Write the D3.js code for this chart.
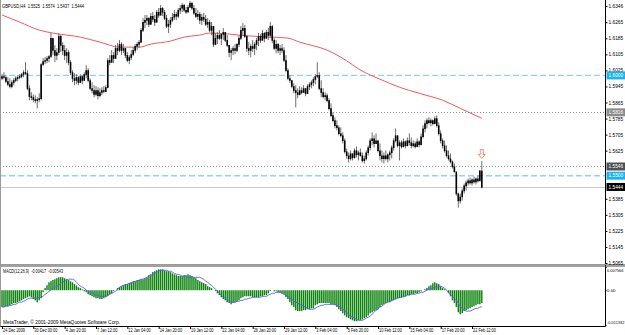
<!DOCTYPE html>
<html>
<head>
<meta charset="utf-8">
<script src="https://cdn.jsdelivr.net/npm/d3@7"></script>
<style>
  body { margin: 0; background: #fff; }
  svg { display: block; }
  text { font-family: "Liberation Sans", Arial, sans-serif; }
</style>
</head>
<body>
<svg id="chart" width="625" height="335"></svg>
<script>
// ========= Data (GBPUSD H4, one value per bar) =========
const opens = [
  1.5986,1.5996,1.5991,1.5971,1.5956,1.5946,1.5966,1.5976,1.5986,1.5991,
  1.5996,1.6006,1.6016,1.6011,1.5936,1.5896,1.5891,1.5881,1.5876,1.5881,
  1.5886,1.6056,1.6071,1.6076,1.6086,1.6096,1.6186,1.6126,1.6101,1.6116,
  1.6196,1.6151,1.6126,1.6101,1.6116,1.6066,1.6016,1.5986,1.5976,1.5991,
  1.5966,1.5996,1.5976,1.6006,1.6026,1.5976,1.5936,1.5926,1.5906,1.5926,
  1.5901,1.5916,1.5926,1.5921,1.5941,1.6076,1.6066,1.6101,1.6086,1.6136,
  1.6126,1.6156,1.6126,1.6136,1.6101,1.6076,1.6091,1.6106,1.6126,1.6146,
  1.6156,1.6166,1.6226,1.6266,1.6276,1.6286,1.6256,1.6296,1.6281,1.6266,
  1.6316,1.6301,1.6336,1.6316,1.6286,1.6246,1.6256,1.6276,1.6291,1.6306,
  1.6296,1.6326,1.6336,1.6351,1.6326,1.6316,1.6341,1.6361,1.6336,1.6311,
  1.6296,1.6306,1.6276,1.6291,1.6281,1.6256,1.6266,1.6226,1.6246,1.6156,
  1.6186,1.6201,1.6186,1.6206,1.6216,1.6176,1.6151,1.6116,1.6126,1.6136,
  1.6126,1.6156,1.6186,1.6226,1.6236,1.6196,1.6136,1.6126,1.6146,1.6136,
  1.6156,1.6176,1.6196,1.6176,1.6211,1.6186,1.6216,1.6201,1.6246,1.6176,
  1.6136,1.6156,1.6126,1.6136,1.6126,1.6076,1.6026,1.5986,1.5976,1.5946,
  1.5926,1.5916,1.5906,1.5926,1.5916,1.5936,1.5911,1.5946,1.5956,1.5966,
  1.5981,1.5996,1.6001,1.5936,1.5916,1.5896,1.5901,1.5876,1.5836,1.5801,
  1.5776,1.5751,1.5741,1.5711,1.5701,1.5676,1.5621,1.5601,1.5586,1.5611,
  1.5591,1.5626,1.5606,1.5616,1.5601,1.5576,1.5586,1.5616,1.5641,1.5676,
  1.5686,1.5661,1.5676,1.5626,1.5601,1.5586,1.5601,1.5586,1.5606,1.5616,
  1.5641,1.5676,1.5701,1.5651,1.5666,1.5646,1.5671,1.5651,1.5676,1.5666,
  1.5651,1.5661,1.5646,1.5671,1.5656,1.5696,1.5736,1.5761,1.5776,1.5766,
  1.5776,1.5761,1.5786,1.5751,1.5711,1.5676,1.5651,1.5626,1.5601,1.5586,
  1.5571,1.5546,1.5521,1.5411,1.5376,1.5396,1.5426,1.5451,1.5466,1.5476,
  1.5466,1.5481,1.5471,1.5486,1.5476,1.5525
];
const highs = [
  1.6006,1.6016,1.6001,1.5991,1.5986,1.5976,1.5986,1.5996,1.6001,1.6006,
  1.6011,1.6026,1.6066,1.6026,1.5951,1.5916,1.5906,1.5901,1.5891,1.5911,
  1.6061,1.6086,1.6091,1.6096,1.6101,1.6211,1.6176,1.6151,1.6136,1.6211,
  1.6201,1.6166,1.6151,1.6136,1.6126,1.6076,1.6026,1.6011,1.6006,1.5996,
  1.6006,1.6001,1.6016,1.6051,1.6036,1.5986,1.5966,1.5951,1.5946,1.5941,
  1.5936,1.5941,1.5946,1.5951,1.6086,1.6101,1.6126,1.6116,1.6151,1.6161,
  1.6176,1.6166,1.6156,1.6136,1.6116,1.6101,1.6126,1.6141,1.6156,1.6166,
  1.6176,1.6236,1.6286,1.6301,1.6301,1.6291,1.6311,1.6316,1.6301,1.6326,
  1.6336,1.6351,1.6341,1.6326,1.6301,1.6276,1.6291,1.6311,1.6326,1.6316,
  1.6336,1.6351,1.6361,1.6356,1.6341,1.6351,1.6371,1.6366,1.6351,1.6336,
  1.6326,1.6316,1.6306,1.6311,1.6301,1.6286,1.6276,1.6266,1.6236,1.6211,
  1.6216,1.6226,1.6211,1.6236,1.6216,1.6201,1.6151,1.6136,1.6146,1.6156,
  1.6161,1.6201,1.6246,1.6261,1.6251,1.6201,1.6166,1.6156,1.6176,1.6166,
  1.6186,1.6211,1.6206,1.6226,1.6216,1.6226,1.6236,1.6266,1.6251,1.6186,
  1.6176,1.6161,1.6151,1.6156,1.6141,1.6101,1.6036,1.6001,1.5976,1.5961,
  1.5951,1.5936,1.5946,1.5941,1.5951,1.5936,1.5956,1.5966,1.5976,1.5991,
  1.6006,1.6066,1.6016,1.5976,1.5936,1.5916,1.5911,1.5886,1.5861,1.5816,
  1.5791,1.5776,1.5751,1.5741,1.5716,1.5686,1.5636,1.5616,1.5626,1.5611,
  1.5636,1.5646,1.5626,1.5636,1.5616,1.5601,1.5626,1.5651,1.5686,1.5716,
  1.5701,1.5711,1.5676,1.5661,1.5626,1.5616,1.5626,1.5611,1.5626,1.5651,
  1.5686,1.5736,1.5701,1.5676,1.5676,1.5686,1.5676,1.5691,1.5711,1.5691,
  1.5676,1.5671,1.5686,1.5676,1.5711,1.5751,1.5776,1.5786,1.5791,1.5786,
  1.5781,1.5796,1.5801,1.5766,1.5726,1.5686,1.5676,1.5651,1.5626,1.5611,
  1.5576,1.5561,1.5516,1.5416,1.5411,1.5436,1.5461,1.5476,1.5486,1.5491,
  1.5486,1.5496,1.5491,1.5501,1.5526,1.5574
];
const lows = [
  1.5976,1.5981,1.5961,1.5946,1.5936,1.5936,1.5951,1.5966,1.5971,1.5981,
  1.5986,1.5991,1.6001,1.5926,1.5876,1.5876,1.5866,1.5861,1.5836,1.5866,
  1.5876,1.6046,1.6056,1.6061,1.6066,1.6086,1.6101,1.6066,1.6076,1.6101,
  1.6116,1.6101,1.6076,1.6061,1.6051,1.6001,1.5966,1.5951,1.5956,1.5951,
  1.5966,1.5956,1.5976,1.5986,1.5966,1.5926,1.5911,1.5891,1.5896,1.5881,
  1.5891,1.5901,1.5911,1.5916,1.5936,1.6051,1.6066,1.6061,1.6086,1.6101,
  1.6116,1.6101,1.6111,1.6086,1.6066,1.6056,1.6076,1.6096,1.6111,1.6126,
  1.6136,1.6166,1.6216,1.6236,1.6251,1.6241,1.6256,1.6266,1.6246,1.6266,
  1.6286,1.6306,1.6296,1.6276,1.6236,1.6211,1.6236,1.6266,1.6276,1.6276,
  1.6286,1.6306,1.6316,1.6316,1.6306,1.6316,1.6336,1.6326,1.6301,1.6286,
  1.6276,1.6256,1.6251,1.6266,1.6246,1.6236,1.6216,1.6201,1.6141,1.6151,
  1.6156,1.6176,1.6151,1.6176,1.6166,1.6141,1.6091,1.6076,1.6101,1.6106,
  1.6116,1.6141,1.6176,1.6196,1.6186,1.6116,1.6101,1.6091,1.6116,1.6101,
  1.6126,1.6146,1.6161,1.6176,1.6166,1.6186,1.6176,1.6186,1.6161,1.6126,
  1.6111,1.6111,1.6101,1.6111,1.6066,1.6016,1.5976,1.5961,1.5936,1.5911,
  1.5841,1.5886,1.5901,1.5906,1.5916,1.5896,1.5916,1.5926,1.5936,1.5946,
  1.5956,1.5986,1.5926,1.5891,1.5886,1.5876,1.5866,1.5826,1.5791,1.5766,
  1.5736,1.5726,1.5701,1.5691,1.5661,1.5611,1.5586,1.5566,1.5576,1.5576,
  1.5586,1.5591,1.5576,1.5596,1.5566,1.5561,1.5576,1.5601,1.5626,1.5651,
  1.5641,1.5661,1.5616,1.5576,1.5566,1.5561,1.5576,1.5566,1.5576,1.5586,
  1.5626,1.5666,1.5641,1.5576,1.5636,1.5641,1.5636,1.5646,1.5651,1.5636,
  1.5641,1.5636,1.5646,1.5641,1.5651,1.5686,1.5716,1.5736,1.5756,1.5746,
  1.5751,1.5756,1.5741,1.5701,1.5661,1.5636,1.5616,1.5591,1.5576,1.5561,
  1.5536,1.5516,1.5401,1.5341,1.5361,1.5376,1.5411,1.5426,1.5451,1.5456,
  1.5451,1.5461,1.5456,1.5466,1.5476,1.5437
];
const closes = [
  1.5996,1.5991,1.5971,1.5956,1.5946,1.5966,1.5976,1.5986,1.5991,1.5996,
  1.6006,1.6016,1.6011,1.5936,1.5896,1.5891,1.5881,1.5876,1.5881,1.5886,
  1.6056,1.6071,1.6076,1.6086,1.6096,1.6186,1.6126,1.6101,1.6116,1.6196,
  1.6151,1.6126,1.6101,1.6116,1.6066,1.6016,1.5986,1.5976,1.5991,1.5966,
  1.5996,1.5976,1.6006,1.6026,1.5976,1.5936,1.5926,1.5906,1.5926,1.5901,
  1.5916,1.5926,1.5921,1.5941,1.6076,1.6066,1.6101,1.6086,1.6136,1.6126,
  1.6156,1.6126,1.6136,1.6101,1.6076,1.6091,1.6106,1.6126,1.6146,1.6156,
  1.6166,1.6226,1.6266,1.6276,1.6286,1.6256,1.6296,1.6281,1.6266,1.6316,
  1.6301,1.6336,1.6316,1.6286,1.6246,1.6256,1.6276,1.6291,1.6306,1.6296,
  1.6326,1.6336,1.6351,1.6326,1.6316,1.6341,1.6361,1.6336,1.6311,1.6296,
  1.6306,1.6276,1.6291,1.6281,1.6256,1.6266,1.6226,1.6246,1.6156,1.6186,
  1.6201,1.6186,1.6206,1.6216,1.6176,1.6151,1.6116,1.6126,1.6136,1.6126,
  1.6156,1.6186,1.6226,1.6236,1.6196,1.6136,1.6126,1.6146,1.6136,1.6156,
  1.6176,1.6196,1.6176,1.6211,1.6186,1.6216,1.6201,1.6246,1.6176,1.6136,
  1.6156,1.6126,1.6136,1.6126,1.6076,1.6026,1.5986,1.5976,1.5946,1.5926,
  1.5916,1.5906,1.5926,1.5916,1.5936,1.5911,1.5946,1.5956,1.5966,1.5981,
  1.5996,1.6001,1.5936,1.5916,1.5896,1.5901,1.5876,1.5836,1.5801,1.5776,
  1.5751,1.5741,1.5711,1.5701,1.5676,1.5621,1.5601,1.5586,1.5611,1.5591,
  1.5626,1.5606,1.5616,1.5601,1.5576,1.5586,1.5616,1.5641,1.5676,1.5686,
  1.5661,1.5676,1.5626,1.5601,1.5586,1.5601,1.5586,1.5606,1.5616,1.5641,
  1.5676,1.5701,1.5651,1.5666,1.5646,1.5671,1.5651,1.5676,1.5666,1.5651,
  1.5661,1.5646,1.5671,1.5656,1.5696,1.5736,1.5761,1.5776,1.5766,1.5776,
  1.5761,1.5786,1.5751,1.5711,1.5676,1.5651,1.5626,1.5601,1.5586,1.5571,
  1.5546,1.5521,1.5411,1.5376,1.5396,1.5426,1.5451,1.5466,1.5476,1.5466,
  1.5481,1.5471,1.5486,1.5476,1.5526,1.5444
];

// moving average (red), read at sample bars
const maBars   = [0, 9, 19, 26, 40, 50, 60, 70, 76, 86, 93, 101, 106, 116, 124, 138, 146, 152, 166, 173, 185, 193, 203, 213, 225, 234, 245];
const maValues = [1.6301, 1.6266, 1.6226, 1.6211, 1.6191, 1.6166, 1.6141, 1.6141, 1.6156, 1.6171, 1.6191, 1.6201, 1.6211,
                  1.6206, 1.6198, 1.6191, 1.6186, 1.6166, 1.6126, 1.6091, 1.6016, 1.5981, 1.5941, 1.5911, 1.5876, 1.5836, 1.5786];

// MACD(12,26,9): main (histogram) and signal, one value per bar
const macdMain = [
  -0.0055,-0.0055,-0.0052,-0.0052,-0.0049,-0.0046,-0.0042,-0.0042,-0.0039,-0.0036,
  -0.0033,-0.0029,-0.0026,-0.0023,-0.0020,-0.0023,-0.0029,-0.0033,-0.0039,-0.0033,
  -0.0026,-0.0007,0.0007,0.0016,0.0026,0.0029,0.0033,0.0036,0.0039,0.0042,
  0.0042,0.0042,0.0039,0.0036,0.0033,0.0029,0.0026,0.0020,0.0016,0.0010,
  0.0007,0.0003,-0.0003,-0.0007,-0.0013,-0.0016,-0.0020,-0.0023,-0.0026,-0.0026,
  -0.0029,-0.0029,-0.0026,-0.0023,-0.0020,-0.0013,-0.0010,-0.0003,0.0000,0.0007,
  0.0010,0.0013,0.0016,0.0020,0.0020,0.0023,0.0026,0.0029,0.0029,0.0033,
  0.0033,0.0036,0.0036,0.0039,0.0042,0.0049,0.0052,0.0059,0.0062,0.0065,
  0.0068,0.0068,0.0068,0.0065,0.0062,0.0062,0.0059,0.0055,0.0052,0.0049,
  0.0046,0.0046,0.0046,0.0049,0.0049,0.0052,0.0049,0.0046,0.0042,0.0039,
  0.0033,0.0029,0.0026,0.0023,0.0020,0.0013,0.0010,0.0007,0.0000,-0.0003,
  -0.0010,-0.0016,-0.0023,-0.0029,-0.0033,-0.0039,-0.0042,-0.0046,-0.0042,-0.0039,
  -0.0036,-0.0033,-0.0026,-0.0023,-0.0020,-0.0020,-0.0020,-0.0020,-0.0023,-0.0023,
  -0.0023,-0.0023,-0.0020,-0.0020,-0.0016,-0.0016,-0.0010,-0.0003,0.0000,-0.0003,
  -0.0003,-0.0007,-0.0007,-0.0010,-0.0013,-0.0023,-0.0029,-0.0039,-0.0049,-0.0055,
  -0.0065,-0.0068,-0.0068,-0.0068,-0.0065,-0.0065,-0.0062,-0.0062,-0.0059,-0.0059,
  -0.0049,-0.0046,-0.0042,-0.0042,-0.0042,-0.0042,-0.0042,-0.0042,-0.0046,-0.0046,
  -0.0049,-0.0055,-0.0062,-0.0068,-0.0075,-0.0082,-0.0088,-0.0091,-0.0095,-0.0098,
  -0.0101,-0.0101,-0.0098,-0.0098,-0.0095,-0.0091,-0.0088,-0.0082,-0.0075,-0.0072,
  -0.0068,-0.0065,-0.0062,-0.0055,-0.0049,-0.0046,-0.0042,-0.0039,-0.0039,-0.0036,
  -0.0033,-0.0029,-0.0026,-0.0026,-0.0023,-0.0023,-0.0020,-0.0016,-0.0016,-0.0013,
  -0.0013,-0.0010,-0.0010,-0.0007,-0.0003,0.0000,0.0003,0.0007,0.0013,0.0016,
  0.0023,0.0026,0.0023,0.0020,0.0013,0.0007,0.0003,0.0000,-0.0010,-0.0020,
  -0.0033,-0.0042,-0.0055,-0.0072,-0.0078,-0.0075,-0.0068,-0.0065,-0.0062,-0.0059,
  -0.0055,-0.0052,-0.0049,-0.0046,-0.0046,-0.00417
];
const macdSignal = [
  -0.0055,-0.0055,-0.0052,-0.0052,-0.0049,-0.0049,-0.0046,-0.0046,-0.0042,-0.0039,
  -0.0039,-0.0036,-0.0033,-0.0029,-0.0026,-0.0026,-0.0026,-0.0026,-0.0026,-0.0023,
  -0.0023,-0.0020,-0.0013,-0.0010,-0.0003,0.0000,0.0007,0.0010,0.0013,0.0016,
  0.0023,0.0026,0.0029,0.0033,0.0036,0.0036,0.0036,0.0033,0.0026,0.0020,
  0.0013,0.0010,0.0007,0.0000,-0.0003,-0.0007,-0.0010,-0.0013,-0.0016,-0.0016,
  -0.0020,-0.0020,-0.0020,-0.0020,-0.0016,-0.0013,-0.0010,-0.0007,-0.0003,0.0003,
  0.0010,0.0013,0.0016,0.0016,0.0020,0.0023,0.0023,0.0026,0.0029,0.0029,
  0.0033,0.0036,0.0036,0.0039,0.0042,0.0046,0.0049,0.0052,0.0055,0.0059,
  0.0062,0.0065,0.0065,0.0065,0.0065,0.0062,0.0062,0.0059,0.0055,0.0052,
  0.0052,0.0049,0.0046,0.0046,0.0046,0.0042,0.0042,0.0042,0.0042,0.0042,
  0.0042,0.0042,0.0039,0.0036,0.0029,0.0026,0.0020,0.0016,0.0010,0.0003,
  -0.0003,-0.0010,-0.0016,-0.0023,-0.0026,-0.0033,-0.0036,-0.0039,-0.0039,-0.0039,
  -0.0036,-0.0036,-0.0033,-0.0033,-0.0029,-0.0029,-0.0026,-0.0026,-0.0023,-0.0023,
  -0.0023,-0.0023,-0.0023,-0.0020,-0.0020,-0.0020,-0.0016,-0.0013,-0.0010,-0.0010,
  -0.0007,-0.0007,-0.0007,-0.0010,-0.0013,-0.0016,-0.0020,-0.0026,-0.0029,-0.0036,
  -0.0039,-0.0042,-0.0046,-0.0049,-0.0052,-0.0055,-0.0059,-0.0062,-0.0062,-0.0062,
  -0.0059,-0.0055,-0.0052,-0.0049,-0.0049,-0.0046,-0.0046,-0.0046,-0.0046,-0.0046,
  -0.0046,-0.0049,-0.0052,-0.0055,-0.0062,-0.0065,-0.0072,-0.0078,-0.0085,-0.0088,
  -0.0091,-0.0095,-0.0098,-0.0098,-0.0098,-0.0095,-0.0091,-0.0088,-0.0085,-0.0078,
  -0.0072,-0.0065,-0.0062,-0.0055,-0.0052,-0.0046,-0.0042,-0.0039,-0.0036,-0.0033,
  -0.0029,-0.0029,-0.0026,-0.0023,-0.0023,-0.0020,-0.0020,-0.0016,-0.0016,-0.0013,
  -0.0013,-0.0013,-0.0010,-0.0010,-0.0007,-0.0007,-0.0003,0.0000,0.0003,0.0003,
  0.0007,0.0010,0.0010,0.0013,0.0013,0.0010,0.0007,0.0000,-0.0007,-0.0013,
  -0.0020,-0.0026,-0.0033,-0.0042,-0.0052,-0.0059,-0.0065,-0.0068,-0.0068,-0.0068,
  -0.0065,-0.0062,-0.0059,-0.0059,-0.0055,-0.00543
];

// axis ticks / labels
const priceTicks = [1.6346, 1.6265, 1.6185, 1.6105, 1.6025, 1.5945, 1.5865, 1.5785, 1.5705,
                    1.5625, 1.5545, 1.5465, 1.5385, 1.5305, 1.5225, 1.5145, 1.5065];
const timeLabels = ["24 Dec 2009", "30 Dec 00:00", "4 Jan 20:00", "7 Jan 12:00", "12 Jan 04:00",
                    "14 Jan 20:00", "19 Jan 12:00", "22 Jan 04:00", "26 Jan 20:00", "29 Jan 12:00",
                    "3 Feb 04:00", "5 Feb 20:00", "10 Feb 12:00", "15 Feb 04:00", "17 Feb 20:00", "22 Feb 12:00"];
const macdTicks = [0.007566, 0, -0.011332];
const macdTickLabels = ["0.007566", "0.00", "-0.011332"];

// horizontal levels
const dashedLevels = [1.6000, 1.5500];
const dottedLevels = [1.5816, 1.5546];
const bidPrice = 1.5444;
const arrowBar = 245, arrowPrice = 1.5631;

// header texts
const titleText = "GBPUSD,H4  1.5525  1.5574  1.5437  1.5444";
const macdText = "MACD(12,26,9)  -0.00417  -0.00543";
const copyright = "MetaTrader, \u00a9 2001-2009 MetaQuotes Software Corp.";

// ========= Layout =========
const W = 625, H = 335;
const axisX = 605.5;
const mainBottom = 264;
const macdBottomY = 326.5;
const FONT = 5.4;

const svg = d3.select("#chart");

const x = d3.scaleLinear().domain([0, 240]).range([2, 472]);
const y = d3.scaleLinear().domain([1.5065, 1.6346]).range([263, 6]);
const ym = d3.scaleLinear().domain([-0.011332, 0.007566]).range([325, 267]);

// ========= Helpers =========
// MT4 text is narrower than Liberation Sans: fit a text to a given width
function fitWidth(sel, width) {
  sel.attr("textLength", width).attr("lengthAdjust", "spacingAndGlyphs");
}
function squeeze(sel, k) {
  sel.each(function () {
    const len = this.getComputedTextLength();
    d3.select(this).attr("textLength", len * k).attr("lengthAdjust", "spacingAndGlyphs");
  });
}

svg.append("rect").attr("width", W).attr("height", H).attr("fill", "#fff");

svg.append("defs").append("clipPath").attr("id", "clipMain")
  .append("rect").attr("x", 0).attr("y", 0).attr("width", axisX).attr("height", mainBottom);

const main = svg.append("g").attr("clip-path", "url(#clipMain)");

// ========= Levels =========
main.selectAll("line.dash").data(dashedLevels).join("line")
  .attr("x1", 0).attr("x2", axisX)
  .attr("y1", d => y(d)).attr("y2", d => y(d))
  .attr("stroke", "#8fd3f4").attr("stroke-width", 1.3)
  .attr("stroke-dasharray", "6,3");

main.selectAll("line.dot").data(dottedLevels).join("line")
  .attr("x1", 0).attr("x2", axisX)
  .attr("y1", d => Math.round(y(d)) + 0.5).attr("y2", d => Math.round(y(d)) + 0.5)
  .attr("stroke", "#909090").attr("stroke-dasharray", "1,2");

main.append("line")
  .attr("x1", 0).attr("x2", axisX)
  .attr("y1", Math.round(y(bidPrice)) + 0.5).attr("y2", Math.round(y(bidPrice)) + 0.5)
  .attr("stroke", "#c8c8c8");

// ========= Moving average =========
const maLine = d3.line()
  .x((d, i) => x(maBars[i]))
  .y(d => y(d))
  .curve(d3.curveMonotoneX);

main.append("path")
  .datum(maValues)
  .attr("d", maLine)
  .attr("fill", "none")
  .attr("stroke", "#f05a5a")
  .attr("stroke-width", 1);

// ========= Candles =========
const bars = opens.map((o, i) => ({ i, o, h: highs[i], l: lows[i], c: closes[i] }));

main.selectAll("line.wick").data(bars).join("line")
  .attr("class", "wick")
  .attr("x1", d => x(d.i)).attr("x2", d => x(d.i))
  .attr("y1", d => y(d.h)).attr("y2", d => y(d.l))
  .attr("stroke", "#6e6e6e").attr("stroke-width", 1);

main.selectAll("line.body").data(bars).join("line")
  .attr("class", "body")
  .attr("x1", d => x(d.i)).attr("x2", d => x(d.i))
  .attr("y1", d => y(Math.max(d.o, d.c))).attr("y2", d => y(Math.min(d.o, d.c)) + 0.6)
  .attr("stroke", "#000").attr("stroke-width", 1.6);

// down arrow above last bar
const ax = x(arrowBar), ay = y(arrowPrice);
main.append("path")
  .attr("d", `M${ax - 1.5},${ay} h3 v5 h2 l-3.5,4 l-3.5,-4 h2 z`)
  .attr("fill", "#fff").attr("stroke", "#f08060").attr("stroke-width", 0.9);

// ========= Frame =========
svg.append("line").attr("x1", axisX).attr("x2", axisX).attr("y1", 0).attr("y2", macdBottomY)
  .attr("stroke", "#000");
svg.append("line").attr("x1", 0).attr("x2", W).attr("y1", 264.5).attr("y2", 264.5).attr("stroke", "#9a9a9a");
svg.append("line").attr("x1", 0).attr("x2", W).attr("y1", 266).attr("y2", 266).attr("stroke", "#444").attr("stroke-width", 1.2);
svg.append("line").attr("x1", 0).attr("x2", axisX).attr("y1", macdBottomY).attr("y2", macdBottomY).attr("stroke", "#000");
svg.append("line").attr("x1", 0.5).attr("x2", 0.5).attr("y1", 0).attr("y2", macdBottomY).attr("stroke", "#9a9a9a");

// ========= Price axis =========
const boxes = [
  { v: dashedLevels[0], fill: "#1cb4f0" },
  { v: dottedLevels[0], fill: "#8c8c8c" },
  { v: dottedLevels[1], fill: "#505050" },
  { v: dashedLevels[1], fill: "#1cb4f0" },
  { v: bidPrice, fill: "#000" }
];
// tick labels that sit under a level box are hidden, as in the terminal
const shownTicks = priceTicks.filter(t => boxes.every(b => Math.abs(y(b.v) - y(t)) > 4.5));

const yAxis = svg.append("g")
  .attr("transform", `translate(${axisX},0)`)
  .call(d3.axisRight(y).tickValues(shownTicks).tickFormat(d3.format(".4f")).tickSize(2).tickPadding(1));
yAxis.select(".domain").remove();
yAxis.selectAll("text").attr("font-size", 4.8).attr("fill", "#000").attr("font-family", null);

const boxG = svg.append("g").selectAll("g").data(boxes).join("g")
  .attr("transform", d => `translate(${axisX + 1},${y(d.v)})`);
boxG.append("rect").attr("x", 0).attr("y", -4).attr("width", 18.5).attr("height", 8).attr("fill", d => d.fill);
boxG.append("text").attr("x", 2).attr("y", 1.7)
  .attr("font-size", 4.8).attr("fill", "#fff")
  .text(d => d3.format(".4f")(d.v));

// ========= MACD =========
const macdG = svg.append("g");
macdG.selectAll("line.hist").data(macdMain).join("line")
  .attr("x1", (d, i) => x(i)).attr("x2", (d, i) => x(i))
  .attr("y1", ym(0)).attr("y2", d => ym(d))
  .attr("stroke", "#0e840e").attr("stroke-width", 1.45);

macdG.append("path")
  .datum(macdSignal)
  .attr("d", d3.line().x((d, i) => x(i)).y(d => ym(d)))
  .attr("fill", "none")
  .attr("stroke", "#5a5aff")
  .attr("stroke-width", 0.9);

const mAxis = svg.append("g")
  .attr("transform", `translate(${axisX},0)`)
  .call(d3.axisRight(ym).tickValues(macdTicks).tickFormat((d, i) => macdTickLabels[i]).tickSize(1).tickPadding(0.5));
mAxis.select(".domain").remove();
mAxis.selectAll("text")
  .attr("font-size", 4.4).attr("fill", "#000").attr("font-family", null)
  .attr("dy", (d, i) => ["0.95em", "0.32em", "-0.35em"][i])
  .each(function (d, i) { if (i !== 1) d3.select(this).call(fitWidth, i === 0 ? 16.5 : 17.5); });

// ========= Time axis =========
const xAxis = svg.append("g")
  .attr("transform", `translate(0,${macdBottomY})`)
  .call(d3.axisBottom(x).tickValues(d3.range(0, 241, 16)).tickFormat((d, i) => timeLabels[i]).tickSize(2.5).tickPadding(0));
xAxis.select(".domain").remove();
xAxis.selectAll("text")
  .attr("font-size", FONT).attr("fill", "#000").attr("font-family", null)
  .attr("text-anchor", "start").attr("dx", 0.5).attr("dy", "0.55em")
  .call(squeeze, 0.72);

// ========= Texts =========
svg.append("text").attr("x", 2).attr("y", 7.6)
  .attr("font-size", 5.6).attr("xml:space", "preserve")
  .text(titleText).call(fitWidth, 82);
svg.append("text").attr("x", 3).attr("y", 273)
  .attr("font-size", 5.4).attr("xml:space", "preserve")
  .text(macdText).call(fitWidth, 60);
svg.append("text").attr("x", 3).attr("y", 323.8)
  .attr("font-size", 5.2)
  .text(copyright).call(fitWidth, 117);
</script>
</body>
</html>
